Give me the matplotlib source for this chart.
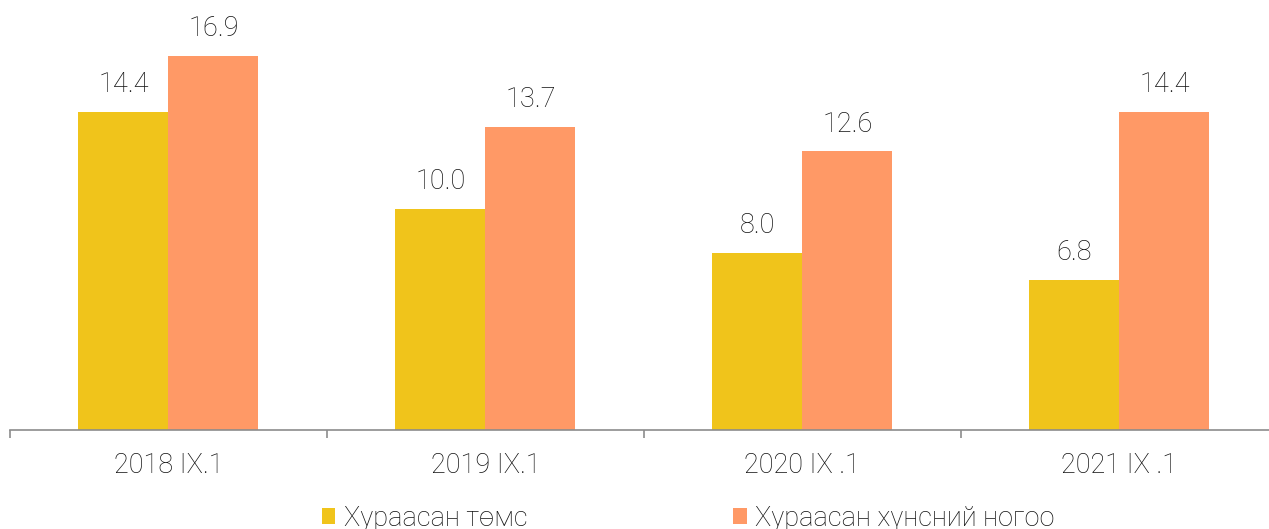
import numpy as np
import matplotlib.pyplot as plt

# Өгөгдөл
categories = ['2018 IX.1', '2019 IX.1', '2020 IX .1', '2021 IX .1']
series_names = ['Хураасан төмс', 'Хураасан хүнсний ногоо']
potato = [14.4, 10.0, 8.0, 6.8]
vegetables = [16.9, 13.7, 12.6, 14.4]
colors = ['#F0C41B', '#FF9966']

plt.rcParams['font.family'] = ['Roboto', 'DejaVu Sans']
plt.rcParams['font.weight'] = 'light'

fig = plt.figure(figsize=(12.69, 5.29), dpi=100)
W, H = 1269, 529
# axes runs off the right edge like the original crop
ax = fig.add_axes([10 / W, 99 / H, 1268 / W, 430 / H])

x = np.arange(len(categories))
w = 90 / 317
b1 = ax.bar(x - w / 2, potato, w, color=colors[0], label=series_names[0])
b2 = ax.bar(x + w / 2, vegetables, w, color=colors[1], label=series_names[1])

for bars, vals in [(b1, potato), (b2, vegetables)]:
    for r, v in zip(bars, vals):
        ax.annotate(f'{v:.1f}', (r.get_x() + r.get_width() / 2, v),
                    xytext=(0, 10), textcoords='offset points',
                    ha='center', va='bottom', fontsize=19.5,
                    color='#111111', fontweight='light')

ax.set_xlim(-0.5, len(categories) - 0.5)
ax.set_ylim(0, 19.45)

for s in ['top', 'right', 'left']:
    ax.spines[s].set_visible(False)
ax.spines['bottom'].set_color('#8C8C8C')
ax.spines['bottom'].set_linewidth(1.2)
ax.set_yticks([])

ax.set_xticks(np.arange(len(categories) + 1) - 0.5)
ax.set_xticklabels([])
ax.tick_params(axis='x', which='major', length=6, width=1.2, color='#8C8C8C')
ax.set_xticks(x, minor=True)
ax.set_xticklabels(categories, minor=True, fontsize=19.5, color='#111111')
ax.tick_params(axis='x', which='minor', length=0, pad=15.5)

fig.legend(loc='center', bbox_to_anchor=(688 / W, 11 / H), ncol=2,
           frameon=False, fontsize=19.5, handlelength=0.5, handleheight=0.5,
           handletextpad=0.3, columnspacing=7.6, borderaxespad=0,
           labelcolor='#111111')

fig.savefig('out.png', dpi=100)
